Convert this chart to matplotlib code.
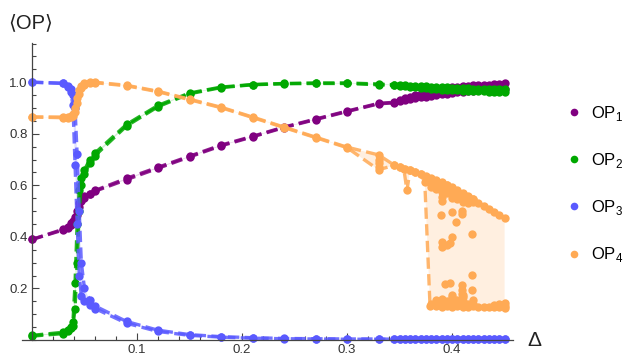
"""
Order parameters <OP_i> against the detuning Delta, four series with
lower/upper branches (dashed) and the band between them shaded.

    python plot.py

Writes ``out.png``.
"""

import matplotlib

matplotlib.use("Agg")
import matplotlib.pyplot as plt
from matplotlib.lines import Line2D
from matplotlib.ticker import MultipleLocator, FixedLocator

plt.rcParams["font.family"] = ["Liberation Sans", "DejaVu Sans"]
plt.rcParams["mathtext.fontset"] = "custom"
plt.rcParams["mathtext.rm"] = "Liberation Sans"

# sweep grid: coarse part, then the dense scan near the end
delta_main = [0.0, 0.03, 0.034, 0.037, 0.039, 0.041, 0.043, 0.045, 0.047, 0.05,
              0.055, 0.06, 0.09, 0.12, 0.15, 0.18, 0.21, 0.24, 0.27, 0.30, 0.33]
delta_dense = [0.345, 0.35, 0.355, 0.36, 0.365, 0.37, 0.375, 0.38, 0.385, 0.39,
               0.395, 0.40, 0.405, 0.41, 0.415, 0.42, 0.425, 0.43, 0.435, 0.44,
               0.445, 0.45]
delta = delta_main + delta_dense

op1_hi = [0.39, 0.43, 0.44, 0.452, 0.462, 0.478, 0.50, 0.53, 0.545, 0.557, 0.568,
          0.58, 0.627, 0.67, 0.713, 0.756, 0.79, 0.826, 0.857, 0.888, 0.918,
          0.922, 0.93, 0.937, 0.943, 0.949, 0.954, 0.959, 0.963, 0.967, 0.972,
          0.976, 0.98, 0.982, 0.984, 0.986, 0.988, 0.989, 0.99, 0.991, 0.992,
          0.993, 0.995]
op1_lo = [0.39, 0.427, 0.436, 0.447, 0.456, 0.468, 0.485, 0.515, 0.54, 0.552, 0.565,
          0.577, 0.622, 0.666, 0.71, 0.753, 0.788, 0.824, 0.855, 0.886, 0.916,
          0.92, 0.926, 0.93, 0.934, 0.938, 0.941, 0.944, 0.947, 0.95, 0.953,
          0.956, 0.959, 0.961, 0.963, 0.965, 0.967, 0.969, 0.97, 0.971, 0.972,
          0.973, 0.975]

op2_hi = [0.018, 0.03, 0.038, 0.052, 0.07, 0.22, 0.45, 0.58, 0.63, 0.66, 0.70,
          0.725, 0.836, 0.91, 0.958, 0.981, 0.991, 0.995, 0.997, 0.997, 0.993,
          0.99, 0.989, 0.988, 0.987, 0.986, 0.985, 0.984, 0.983, 0.982, 0.981,
          0.98, 0.979, 0.978, 0.977, 0.976, 0.975, 0.975, 0.974, 0.974, 0.973,
          0.973, 0.972]
op2_lo = [0.015, 0.025, 0.033, 0.045, 0.056, 0.12, 0.3, 0.5, 0.6, 0.645, 0.685,
          0.715, 0.83, 0.905, 0.955, 0.979, 0.99, 0.994, 0.995, 0.995, 0.99,
          0.988, 0.986, 0.984, 0.982, 0.98, 0.978, 0.976, 0.974, 0.972, 0.971,
          0.97, 0.969, 0.968, 0.967, 0.966, 0.965, 0.964, 0.964, 0.963, 0.963,
          0.962, 0.962]

op3_hi = [1.0, 0.996, 0.987, 0.972, 0.95, 0.9, 0.72, 0.5, 0.3, 0.2, 0.155,
          0.132, 0.072, 0.038, 0.021, 0.013, 0.009, 0.006, 0.005, 0.004, 0.004,
          0.003, 0.003, 0.003, 0.003, 0.003, 0.003, 0.003, 0.003, 0.003, 0.003,
          0.003, 0.003, 0.003, 0.003, 0.003, 0.003, 0.003, 0.003, 0.003, 0.003,
          0.003, 0.003]
op3_lo = [1.0, 0.995, 0.982, 0.962, 0.91, 0.68, 0.45, 0.25, 0.17, 0.15, 0.135,
          0.122, 0.065, 0.033, 0.018, 0.011, 0.007, 0.005, 0.004, 0.003, 0.003,
          0.002, 0.002, 0.002, 0.002, 0.002, 0.002, 0.002, 0.002, 0.002, 0.002,
          0.002, 0.002, 0.002, 0.002, 0.002, 0.002, 0.002, 0.002, 0.002, 0.002,
          0.002, 0.002]

op4_hi = [0.865, 0.865, 0.866, 0.868, 0.875, 0.9, 0.94, 0.97, 0.985, 0.995, 1.0,
          1.0, 0.988, 0.965, 0.934, 0.903, 0.865, 0.826, 0.787, 0.748, 0.718,
          0.678, 0.672, 0.665, 0.658, 0.651, 0.644, 0.637, 0.63, 0.622, 0.612,
          0.602, 0.592, 0.581, 0.57, 0.558, 0.546, 0.533, 0.52, 0.508, 0.496,
          0.484, 0.472]
# the lower OP4 branch has its own grid (dip near 0.357, drop at ~0.375)
op4_lo_delta = delta_main + [0.345, 0.35, 0.354, 0.357, 0.36, 0.365, 0.37, 0.374,
                             0.379, 0.385, 0.39, 0.395, 0.40, 0.405, 0.41, 0.415,
                             0.42, 0.425, 0.43, 0.435, 0.44, 0.445, 0.45]
op4_lo = [0.865, 0.862, 0.862, 0.865, 0.87, 0.885, 0.92, 0.955, 0.978, 0.99, 0.997,
          0.998, 0.986, 0.963, 0.932, 0.901, 0.863, 0.824, 0.785, 0.746, 0.66,
          0.678, 0.672, 0.665, 0.58, 0.658, 0.651, 0.644, 0.612, 0.132,
          0.13, 0.128, 0.13, 0.127, 0.13, 0.128, 0.127, 0.13,
          0.128, 0.127, 0.128, 0.127, 0.128, 0.13]
# individual OP4 samples inside the bistable window
op4_extra_delta = [0.33, 0.33, 0.33,
                   0.38, 0.38, 0.385, 0.385, 0.39, 0.39, 0.39, 0.39, 0.395, 0.395,
                   0.395, 0.40, 0.40, 0.405, 0.405, 0.41, 0.41, 0.415, 0.415,
                   0.42, 0.42, 0.4, 0.41, 0.415, 0.405,
                   0.389, 0.40, 0.409, 0.409, 0.404, 0.419, 0.40, 0.39, 0.395,
                   0.39, 0.398, 0.419, 0.409, 0.409, 0.409, 0.393, 0.398, 0.419,
                   0.38, 0.385, 0.385, 0.39, 0.39, 0.395, 0.395, 0.40, 0.40,
                   0.405, 0.405, 0.41, 0.41, 0.415, 0.42, 0.42, 0.44, 0.445,
                   0.45, 0.45, 0.4, 0.41]
op4_extra = [0.70, 0.685, 0.67,
             0.61, 0.595, 0.60, 0.585, 0.595, 0.575, 0.555, 0.54, 0.6, 0.59,
             0.57, 0.585, 0.565, 0.575, 0.56, 0.565, 0.55, 0.555, 0.54,
             0.545, 0.535, 0.55, 0.535, 0.53, 0.545,
             0.484, 0.497, 0.50, 0.49, 0.459, 0.413, 0.40, 0.381, 0.368,
             0.359, 0.375, 0.252, 0.213, 0.195, 0.18, 0.217, 0.222, 0.194,
             0.14, 0.14, 0.155, 0.145, 0.16, 0.14, 0.15, 0.145, 0.165,
             0.14, 0.155, 0.15, 0.165, 0.14, 0.14, 0.155, 0.135, 0.14,
             0.145, 0.125, 0.175, 0.175]

labels = ["OP$_1$", "OP$_2$", "OP$_3$", "OP$_4$"]
colors = ["#800080", "#00a800", "#5a5aff", "#ffaa55"]


def main() -> None:
    fig = plt.figure(figsize=(6.25, 3.56), dpi=100)
    ax = fig.add_axes([22 / 625, 16 / 356, 491 / 625, 297 / 356])
    ax.set_xlim(-0.0095, 0.458)
    ax.set_ylim(0.0, 1.152)

    series = [
        (delta, op1_lo, delta, op1_hi, None, None),
        (delta, op2_lo, delta, op2_hi, None, None),
        (delta, op3_lo, delta, op3_hi, None, None),
        (op4_lo_delta, op4_lo, delta, op4_hi, op4_extra_delta, op4_extra),
    ]
    dash = (3.4, 1.6)
    for i, (xl, yl, xh, yh, xe, ye) in enumerate(series):
        c = colors[i]
        z = 2 + i * 0.1
        # shaded band between the two branches
        ax.fill(list(xh) + list(xl)[::-1], list(yh) + list(yl)[::-1],
                color=c, alpha=0.18, lw=0, zorder=1)
        for xs, ys in ((xl, yl), (xh, yh)):
            ax.plot(xs, ys, color=c, lw=2.4, dashes=dash, alpha=0.85,
                    zorder=z, clip_on=False)
            ax.plot(xs, ys, "o", color=c, ms=6.0, mew=0, zorder=z + 0.05,
                    clip_on=False)
        if xe is not None:
            ax.plot(xe, ye, "o", color=c, ms=6.0, mew=0, zorder=z + 0.05,
                    clip_on=False)

    # Mathematica-style axes crossing at the origin
    for s in ("top", "right"):
        ax.spines[s].set_visible(False)
    ax.spines["left"].set_position(("data", 0))
    for s in ("left", "bottom"):
        ax.spines[s].set_color("#444444")
        ax.spines[s].set_linewidth(0.9)

    ax.xaxis.set_major_locator(FixedLocator([0.1, 0.2, 0.3, 0.4]))
    ax.xaxis.set_minor_locator(MultipleLocator(0.02))
    ax.yaxis.set_major_locator(FixedLocator([0.2, 0.4, 0.6, 0.8, 1.0]))
    ax.yaxis.set_minor_locator(MultipleLocator(0.05))
    ax.xaxis.set_major_formatter(lambda v, p: f"{v:.1f}")
    ax.yaxis.set_major_formatter(lambda v, p: f"{v:.1f}")
    ax.tick_params(which="both", direction="in", color="#444444",
                   labelcolor="#333333", labelsize=9.5, width=0.8)
    ax.tick_params(which="major", length=5, pad=3)
    ax.tick_params(which="minor", length=3)

    fig.text(8 / 625, 1 - 23 / 356, "⟨OP⟩", fontsize=14.5, va="center",
             ha="left", color="#222222")
    fig.text(527 / 625, 1 - 340 / 356, "Δ", fontsize=15, va="center",
             ha="left", color="#222222")

    handles = [Line2D([], [], ls="none", marker="o", ms=5.5, mew=0, color=c)
               for c in colors]
    fig.legend(handles, labels, loc="center left",
               bbox_to_anchor=(559 / 625, 1 - 184 / 356), frameon=False,
               fontsize=12, handlelength=1.0, handletextpad=0.5,
               labelspacing=1.7, borderaxespad=0)

    fig.savefig("out.png", dpi=100)


if __name__ == "__main__":
    main()
